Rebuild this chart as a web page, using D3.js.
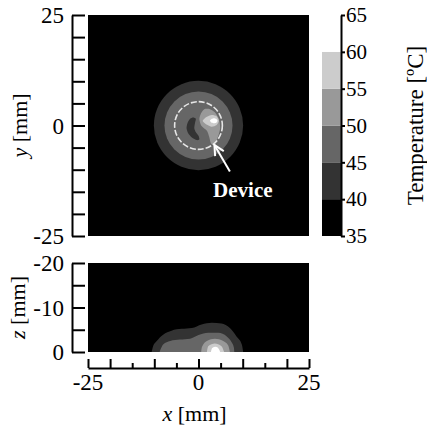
<!DOCTYPE html>
<html>
<head>
<meta charset="utf-8">
<script src="https://cdn.jsdelivr.net/npm/d3@7"></script>
<style>
  body { margin: 0; background: #fff; }
  svg { display: block; }
  text { font-family: "Liberation Serif", "Times New Roman", serif; fill: #000; }
  .axis path, .axis line { stroke: #000; stroke-width: 2; }
</style>
</head>
<body>
<div id="chart"></div>
<script>
// temperature bands (lower bound of each band) and their grey fill
var levels = [35, 40, 45, 50, 55, 60];
var levelColors = ["#000000", "#333333", "#666666", "#999999", "#cccccc", "#ffffff"];
var cbarTicks = [35, 40, 45, 50, 55, 60, 65];

// top view (x-y plane), mm: circular contours centred on the origin
var ringLevels = [40, 45];
var ringRadii = [10.1, 7.7];
var coilRadius = 5.4; // dashed circle

// irregular contours inside the top view, mm
var coldSpot = [[-1.2, 1.8], [-1.9, 1.5], [-2.5, 0.5], [-2.7, -0.6], [-2.3, -1.8], [-1.5, -2.7],
  [-0.4, -3.3], [0.2, -3.1], [0.0, -2.3], [-0.6, -1.5], [-0.95, -0.6], [-0.8, 0.5], [-0.6, 1.5]];
var warmZone = [[1.3, 3.7], [0.6, 2.8], [0.2, 1.5], [0.6, 0.0], [1.9, -1.2], [2.4, -2.5], [2.8, -4.0],
  [3.6, -4.4], [4.3, -2.9], [4.9, -0.6], [4.6, 1.5], [3.7, 3.0], [2.6, 3.7]];
var hotZone = [[0.95, 1.0], [1.8, 1.9], [3.0, 2.4], [4.1, 2.1], [4.6, 1.0], [4.1, 0.1], [3.0, -0.3], [1.8, 0.2]];
var hotCore = [[2.6, 1.05], [3.0, 1.5], [3.5, 1.65], [4.0, 1.5], [4.3, 1.05], [4.0, 0.6], [3.5, 0.5], [3.0, 0.6]];

// side view (x-z plane): contour depth below the surface, mm
var side40 = [[-10.6, 0], [-10.3, 1.2], [-9.5, 2.4], [-8.0, 3.9], [-6.1, 4.8], [-3.8, 5.2], [-1.5, 5.4],
  [0.7, 6.2], [3.0, 6.6], [5.2, 6.4], [7.1, 5.4], [8.6, 3.5], [9.8, 1.7], [10.1, 0]];
var side45 = [[-8.8, 0], [-8.4, 1.0], [-8.0, 1.7], [-6.4, 2.5], [-4.2, 2.8], [-1.9, 3.0], [0.0, 3.8],
  [2.2, 4.3], [4.5, 4.3], [6.4, 3.5], [7.6, 2.0], [8.0, 1.0], [8.1, 0]];
var side50 = [[0.6, 0], [0.8, 1.2], [1.9, 2.5], [3.7, 3.0], [5.6, 2.5], [6.7, 1.5], [7.1, 0]];
var side55 = [[1.9, 0], [2.2, 1.3], [3.7, 1.9], [5.2, 1.3], [5.8, 0]];
var side60 = [[2.8, 0], [3.1, 0.9], [3.9, 1.2], [4.6, 0.7], [4.9, 0]];

var xTicksMajor = [-25, -20, -10, 0, 10, 20, 25];
var xTicksMinor = [-15, -5, 5, 15];
var xLabels = [-25, 0, 25];
var yTicks = [-25, -20, -15, -10, -5, 0, 5, 10, 15, 20, 25];
var yLabels = [-25, 0, 25];
var zTicks = [-20, -15, -10, -5, 0];
var zLabels = [-20, -10, 0];

var width = 427, height = 426;
var svg = d3.select("#chart").append("svg")
  .attr("width", width)
  .attr("height", height);

var x = d3.scaleLinear().domain([-25, 25]).range([88, 309]);
var y = d3.scaleLinear().domain([-25, 25]).range([236, 15]);
var z = d3.scaleLinear().domain([-20, 0]).range([263, 352]);
var tScale = d3.scaleLinear().domain([35, 65]).range([236, 15]);
var color = d3.scaleThreshold().domain(levels.slice(1)).range(levelColors);

// ---- top view ----
var defs = svg.append("defs");
defs.append("clipPath").attr("id", "clipTop").append("rect")
  .attr("x", x(-25)).attr("y", y(25))
  .attr("width", x(25) - x(-25)).attr("height", y(-25) - y(25));
defs.append("clipPath").attr("id", "clipSide").append("rect")
  .attr("x", x(-25)).attr("y", z(-20))
  .attr("width", x(25) - x(-25)).attr("height", z(0) - z(-20));
defs.append("marker")
  .attr("id", "arrow")
  .attr("viewBox", "0 0 12 12")
  .attr("refX", 11).attr("refY", 6)
  .attr("markerWidth", 12).attr("markerHeight", 12)
  .attr("markerUnits", "userSpaceOnUse")
  .attr("orient", "auto")
  .append("path")
  .attr("d", "M1,1 L11,6 L1,11")
  .attr("fill", "none")
  .attr("stroke", "#fff")
  .attr("stroke-width", 2);

var topView = svg.append("g").attr("clip-path", "url(#clipTop)");
topView.append("rect")
  .attr("x", x(-25)).attr("y", y(25))
  .attr("width", x(25) - x(-25)).attr("height", y(-25) - y(25))
  .attr("fill", color(35));

topView.selectAll("circle.ring")
  .data(ringRadii)
  .enter().append("circle")
  .attr("class", "ring")
  .attr("cx", x(0)).attr("cy", y(0))
  .attr("r", function(d) { return x(d) - x(0); })
  .attr("fill", function(d, i) { return color(ringLevels[i]); });

var blobLine = d3.line()
  .x(function(d) { return x(d[0]); })
  .y(function(d) { return y(d[1]); })
  .curve(d3.curveCardinalClosed.tension(0.3));

var patches = [
  {pts: coldSpot, level: 40},
  {pts: warmZone, level: 50},
  {pts: hotZone, level: 55},
  {pts: hotCore, level: 60}
];
topView.selectAll("path.patch")
  .data(patches)
  .enter().append("path")
  .attr("class", "patch")
  .attr("d", function(d) { return blobLine(d.pts); })
  .attr("fill", function(d) { return color(d.level); });

topView.append("circle")
  .attr("cx", x(0)).attr("cy", y(0))
  .attr("r", x(coilRadius) - x(0))
  .attr("fill", "none")
  .attr("stroke", "#e6e6e6")
  .attr("stroke-width", 1.6)
  .attr("stroke-dasharray", "6,2");

// annotation
svg.append("line")
  .attr("x1", x(7.1)).attr("y1", y(-10.4))
  .attr("x2", x(3.6)).attr("y2", y(-4.4))
  .attr("stroke", "#fff")
  .attr("stroke-width", 2)
  .attr("marker-end", "url(#arrow)");
svg.append("text")
  .attr("x", x(3.3)).attr("y", y(-16.2))
  .attr("font-size", 21)
  .attr("font-weight", "bold")
  .style("fill", "#fff")
  .text("Device");

// y axis (top view)
svg.append("g")
  .attr("class", "axis")
  .attr("transform", "translate(72,0)")
  .call(d3.axisRight(y).tickValues(yTicks).tickSize(13).tickSizeOuter(0).tickFormat(""));
svg.selectAll("text.ylab")
  .data(yLabels)
  .enter().append("text")
  .attr("class", "ylab")
  .attr("x", 64)
  .attr("y", function(d) { return y(d); })
  .attr("dy", "0.35em")
  .attr("text-anchor", "end")
  .attr("font-size", 23)
  .text(function(d) { return d; });
svg.append("text")
  .attr("transform", "translate(27," + y(0) + ") rotate(-90)")
  .attr("text-anchor", "middle")
  .attr("font-size", 22)
  .html('<tspan font-style="italic">y</tspan> [mm]');

// ---- side view ----
var side = svg.append("g").attr("clip-path", "url(#clipSide)");
side.append("rect")
  .attr("x", x(-25)).attr("y", z(-20))
  .attr("width", x(25) - x(-25)).attr("height", z(0) - z(-20))
  .attr("fill", color(35));

var hill = d3.area()
  .x(function(d) { return x(d[0]); })
  .y0(z(0))
  .y1(function(d) { return z(-d[1]); })
  .curve(d3.curveMonotoneX);

var profiles = [
  {pts: side40, level: 40},
  {pts: side45, level: 45},
  {pts: side50, level: 50},
  {pts: side55, level: 55},
  {pts: side60, level: 60}
];
side.selectAll("path.profile")
  .data(profiles)
  .enter().append("path")
  .attr("class", "profile")
  .attr("d", function(d) { return hill(d.pts); })
  .attr("fill", function(d) { return color(d.level); });

// z axis
svg.append("g")
  .attr("class", "axis")
  .attr("transform", "translate(72,0)")
  .call(d3.axisRight(z).tickValues(zTicks).tickSize(13).tickSizeOuter(0).tickFormat(""));
svg.selectAll("text.zlab")
  .data(zLabels)
  .enter().append("text")
  .attr("class", "zlab")
  .attr("x", 64)
  .attr("y", function(d) { return z(d); })
  .attr("dy", "0.35em")
  .attr("text-anchor", "end")
  .attr("font-size", 23)
  .text(function(d) { return d; });
svg.append("text")
  .attr("transform", "translate(25," + z(-10) + ") rotate(-90)")
  .attr("text-anchor", "middle")
  .attr("font-size", 22)
  .html('<tspan font-style="italic">z</tspan> [mm]');

// x axis
svg.append("g")
  .attr("class", "axis")
  .attr("transform", "translate(0,368)")
  .call(d3.axisTop(x).tickValues(xTicksMajor).tickSize(9).tickSizeOuter(0).tickFormat(""));
var minorAxis = svg.append("g")
  .attr("class", "axis")
  .attr("transform", "translate(0,368)")
  .call(d3.axisTop(x).tickValues(xTicksMinor).tickSize(5).tickSizeOuter(0).tickFormat(""));
minorAxis.select(".domain").remove();
svg.selectAll("text.xlab")
  .data(xLabels)
  .enter().append("text")
  .attr("class", "xlab")
  .attr("x", function(d) { return x(d); })
  .attr("y", 390)
  .attr("text-anchor", "middle")
  .attr("font-size", 23)
  .text(function(d) { return d; });
svg.append("text")
  .attr("x", x(0) - 4)
  .attr("y", 421)
  .attr("text-anchor", "middle")
  .attr("font-size", 22)
  .html('<tspan font-style="italic">x</tspan> [mm]');

// ---- colour bar ----
svg.selectAll("rect.band")
  .data(levels)
  .enter().append("rect")
  .attr("class", "band")
  .attr("x", 322)
  .attr("width", 19)
  .attr("y", function(d) { return tScale(d + 5); })
  .attr("height", function(d) { return tScale(d) - tScale(d + 5); })
  .attr("fill", function(d) { return color(d); });

var cbar = svg.append("g")
  .attr("class", "axis")
  .attr("transform", "translate(341,0)")
  .call(d3.axisRight(tScale).tickValues(cbarTicks).tickSize(4).tickSizeOuter(0).tickPadding(1));
cbar.selectAll("text")
  .attr("font-size", 21)
  .attr("font-family", "Liberation Serif, serif")
  .attr("fill", "#000");
svg.append("text")
  .attr("transform", "translate(423," + tScale(50) + ") rotate(-90)")
  .attr("text-anchor", "middle")
  .attr("font-size", 23)
  .text("Temperature [\u00baC]");
</script>
</body>
</html>
